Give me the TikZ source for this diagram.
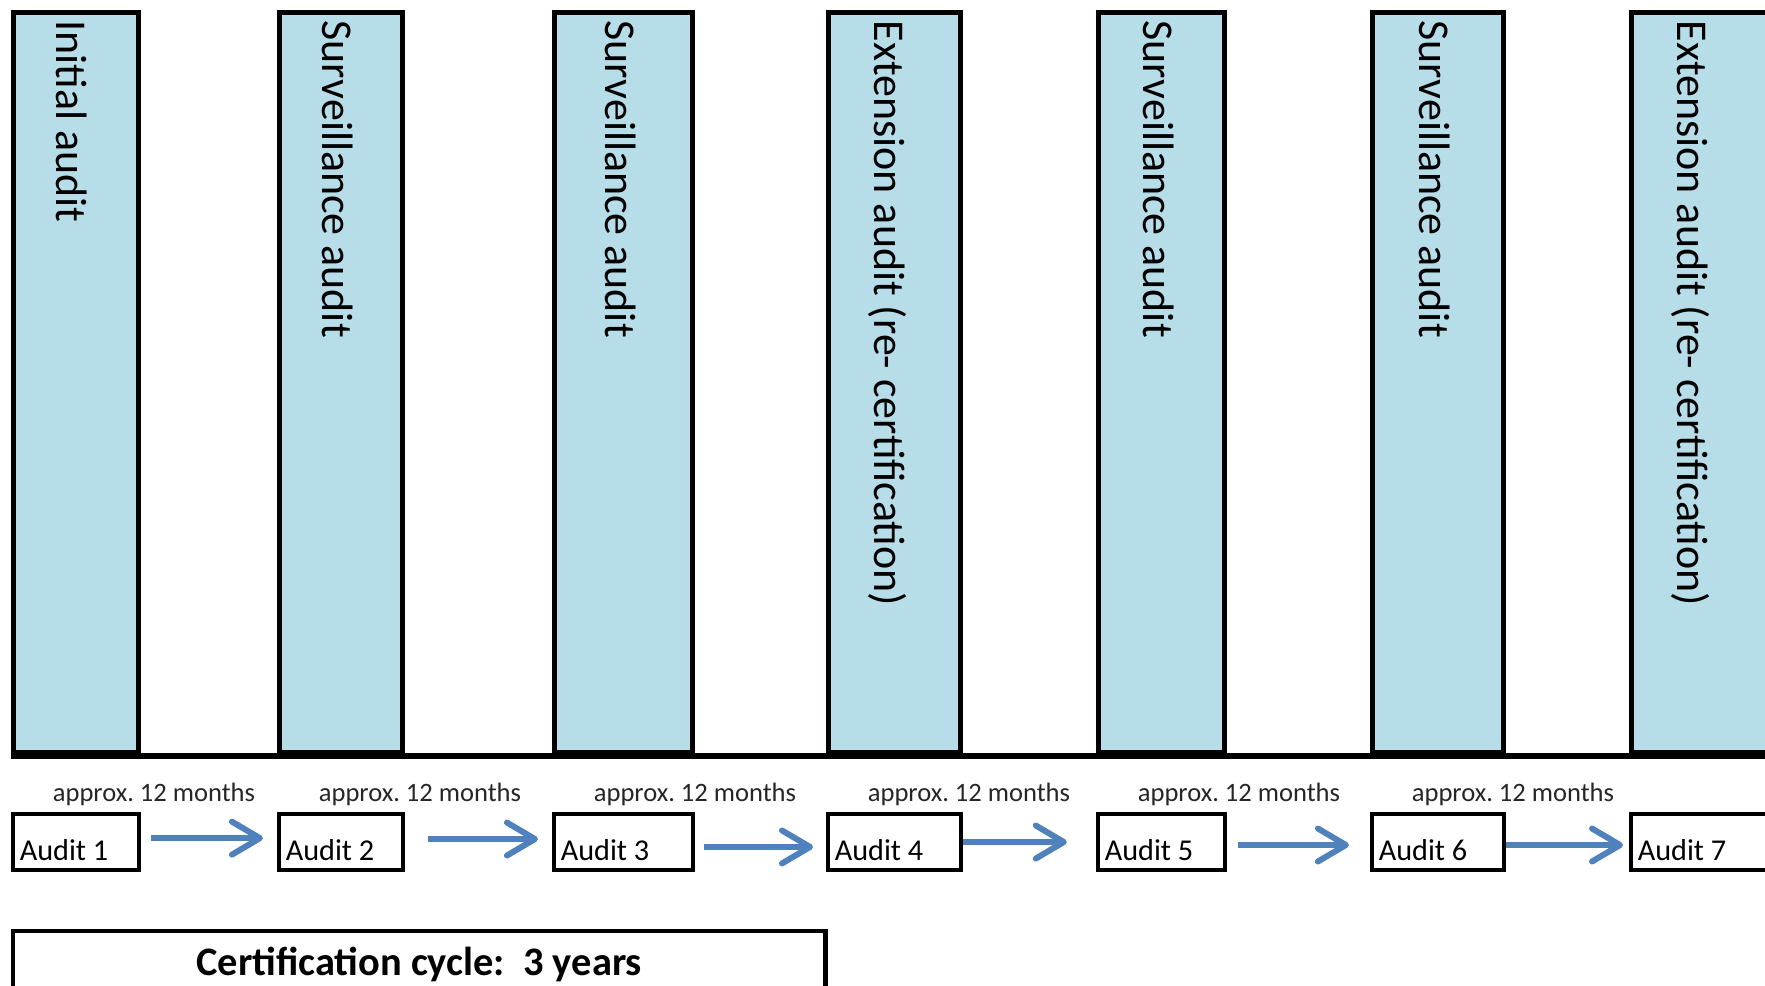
\documentclass[tikz,border=0pt]{standalone}
\usepackage{fontspec}
\setmainfont{Carlito}
\usetikzlibrary{arrows.meta, positioning}

\definecolor{colfill}{RGB}{183,221,232}
\definecolor{arrowblue}{RGB}{79,129,189}

\begin{document}
\begin{tikzpicture}[x=0.01cm, y=-0.01cm,
  colbox/.style={draw, line width=1.45pt, fill=colfill, inner sep=0pt, anchor=north west, minimum height=7.40cm},
  coltext/.style={rotate=-90, anchor=base west, inner sep=0pt, font=\fontsize{12.5}{15}\selectfont},
  auditbox/.style={draw, line width=1.15pt, fill=white, inner sep=0pt, anchor=north west, minimum height=0.56cm},
  audittext/.style={anchor=base west, inner sep=0pt, font=\fontsize{8.6}{11}\selectfont},
  approx/.style={anchor=base west, inner sep=0pt, text=black!85, font=\fontsize{7.55}{9}\selectfont},
  arr/.style={draw=arrowblue, line width=1.7pt, -{Straight Barb[round, length=2.8mm, width=3.3mm]}},
  certbox/.style={draw, line width=1.15pt, inner sep=0pt, anchor=north west, minimum height=0.8cm}
]

\path[use as bounding box, fill=white] (0,0) rectangle (1765,986);

% columns and audit boxes
\foreach \l/\r/\tx/\txt [count=\i] in {
  11/141/57/Initial audit,
  277/405/322/Surveillance audit,
  552/695/605/Surveillance audit,
  826/963/874/Extension audit (re- certification),
  1096/1227/1143/Surveillance audit,
  1370/1506/1419/Surveillance audit,
  1629/1780/1677/Extension audit (re- certification)} {
  \node[colbox, minimum width={(\r-\l-5.1)*0.01cm}] (col\i) at (\l,10) {};
  \node[coltext] (lbl\i) at (\tx,20) {\txt};
  \node[auditbox, minimum width={(\r-\l-4)*0.01cm}] (a\i) at (\l,812) {};
  \node[audittext] (at\i) at ([xshift=2.3pt, yshift=3.3pt]a\i.south west) {Audit \i};
}

% baseline
\draw[line width=1.7pt] (col1.south west) -- (col7.south east);

% months between audits
\foreach \i in {1,...,6} {
  \node[approx] (m\i) at ([xshift=11.7pt, yshift=3.1pt]a\i.north west) {approx.\ 12 months};
}

% arrows
\foreach \i/\sa/\sb/\dy in {1/2.85/4/1.1, 2/6.5/4/0.85, 3/2.6/3.7/-1.4, 4/0/8.3/0, 5/3.1/6/-0.85, 6/0/1.7/-0.85} {
  \pgfmathtruncatemacro\j{\i+1}
  \draw[arr, shorten <=\sa pt, shorten >=\sb pt] ([yshift=\dy pt]a\i.east) -- ([yshift=\dy pt]a\j.west);
}

% certification cycle
\node[certbox, minimum width=8.12cm] (cert) at (11,929) {};
\node[anchor=base, inner sep=0pt, font=\fontsize{11.5}{14}\selectfont\bfseries] (certtext) at ([yshift=-13.1pt]cert.north) {Certification cycle:\ \ 3 years};

\end{tikzpicture}
\end{document}
